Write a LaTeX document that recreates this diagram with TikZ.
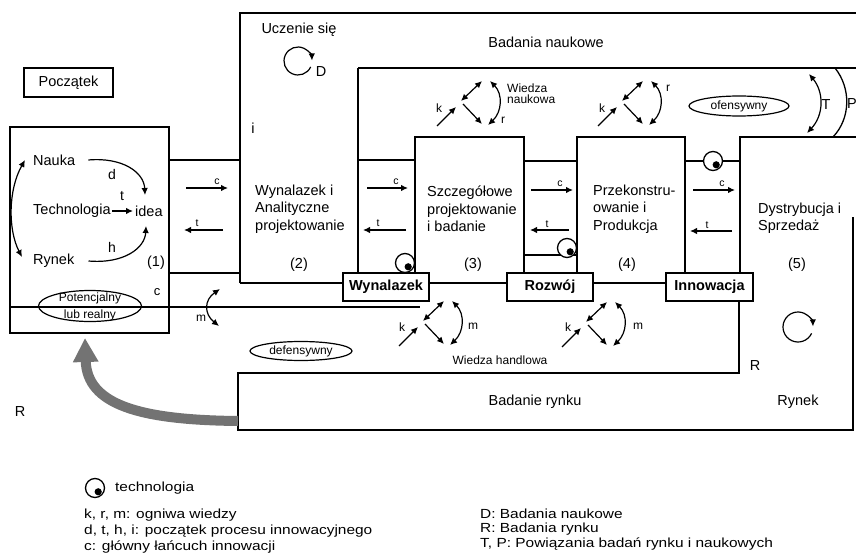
\documentclass[tikz,border=0pt]{standalone}
\usepackage{fontspec}
\setmainfont{Liberation Sans}
\newfontfamily\legfont[FakeStretch=1.17]{Liberation Sans}
\usetikzlibrary{arrows.meta,shapes.geometric}
\newcommand\fmain{\fontsize{14.5}{17.5}\selectfont}
\newcommand\fsmall{\fontsize{12}{13}\selectfont}
\newcommand\ftiny{\fontsize{10.5}{12}\selectfont}
\newcommand\fleg{\legfont\fontsize{13.2}{15}\selectfont}
\newcommand\kcl[2]{%
  \begin{scope}[shift={(#1,#2)}]
    \draw[arr] (-24,24) -- (-5,5);
    \draw[darr] (0,-1) -- (21,-21);
    \draw[arr] (2,2) -- (21,22);
    \draw[darr] (29,-21) .. controls (42,-8) and (41,10) .. (27,23);
  \end{scope}}
\newcommand\techsym[3]{%
  \node[draw,circle,line width=1.3pt,fill=white,minimum size=19pt,inner sep=0pt] (#1) at (#2,#3) {};
  \fill (#2+3.2,#3+3.8) circle (3.6);}
\begin{document}
\begin{tikzpicture}[x=1pt,y=-1pt,
  line/.style={line width=1.3pt},
  arr/.style={line width=1.2pt,-{Latex[length=7pt,width=6.5pt]}},
  darr/.style={line width=1.2pt,{Latex[length=7pt,width=6.5pt]}-{Latex[length=7pt,width=6.5pt]}},
  lbl/.style={inner sep=0pt,font=\fmain},
  sml/.style={inner sep=0pt,font=\fsmall},
  tny/.style={inner sep=0pt,font=\ftiny},
  leg/.style={inner sep=0pt,font=\fleg,anchor=west},
  lbox/.style={draw,line width=1.3pt,fill=white,inner sep=0pt,minimum height=28pt,font=\fmain\bfseries},
  oval/.style={draw,ellipse,line width=1.2pt,inner sep=0pt}
]
\useasboundingbox (0,0) rectangle (856,556);

% ---------- frame lines ----------
\draw[line] (10,127) rectangle (169,333);
\draw[line] (240,283) -- (240,13) -- (856,13);
\draw[line] (358,68) -- (856,68);
\draw[line] (358,68) -- (358,285);
\draw[line] (240,283) -- (343,283);
\draw[line] (415,285) -- (415,137) -- (524,137) -- (524,285);
\draw[line] (577,285) -- (577,137) -- (685,137) -- (685,285);
\draw[line] (740,285) -- (740,137) -- (856,137);
\draw[line] (853,217) -- (853,430) -- (238,430) -- (238,373) -- (739,373) -- (739,290);
% connectors between boxes
\draw[line] (169,160) -- (240,160);
\draw[line] (169,273) -- (240,273);
\draw[line] (358,160) -- (415,160);
\draw[line] (524,161) -- (577,161);
\draw[line] (524,255) -- (577,255);
\draw[line] (685,161) -- (740,161);
\draw[line] (428,283) -- (666,283);
\draw[line] (10,307) -- (420,307);

% ---------- label boxes ----------
\node[lbox,minimum width=86pt] (wyn) at (386,287) {Wynalazek};
\node[lbox,minimum width=86pt] (roz) at (550,287) {Rozwój};
\node[lbox,minimum width=87pt] (inn) at (709.5,287) {Innowacja};
\node[draw,line width=1.2pt,inner sep=0pt,minimum width=89pt,minimum height=29pt,font=\fmain] (pocz) at (68.5,82.5) {Początek};

% ---------- box 1 ----------
\node[lbl,anchor=west] (nauka) at (33,160) {Nauka};
\node[lbl,anchor=west] (techn) at (33,211) {Technologia};
\node[lbl,anchor=west] (idea) at (135,211) {idea};
\node[lbl,anchor=west] (rynek1) at (33,261) {Rynek};
\node[lbl] (n1) at (156,263) {(1)};
\coordinate (ideaT) at (145,195);
\coordinate (ideaB) at (146,226);
\draw[arr] ([xshift=13pt]nauka.east) .. controls (122,157) and (144,172) .. (ideaT);
\draw[arr] ([xshift=14pt]rynek1.east) .. controls (124,264) and (145,248) .. (ideaB);
\draw[arr,shorten <=1pt,shorten >=2pt] (techn.east) -- (idea.west);
\draw[darr] (25,160) .. controls (8,190) and (8,230) .. (22,257);
\node[lbl,font=\fontsize{14}{16}\selectfont] (ld) at (112,174) {d};
\node[lbl,font=\fontsize{14}{16}\selectfont] (lt) at (122,196) {t};
\node[lbl,font=\fontsize{14}{16}\selectfont] (lh) at (112,247) {h};
\node[lbl,font=\fontsize{13}{15}\selectfont] (lc1) at (157,292) {c};
\node[oval,minimum width=103pt,minimum height=31pt] (pot) at (90,306) {};
\node[sml] (pot1) at (90,298) {Potencjalny};
\node[sml] (pot2) at (90,315) {lub realny};

% ---------- box 2 ----------
\node[lbl] (ucz) at (299,30) {Uczenie się};
\draw[arr] (298,61) ++(25:14) arc[start angle=25,end angle=358,radius=14];
\node[lbl] (lD) at (321,72) {D};
\node[lbl] (li) at (253,128) {i};
\node[lbl,anchor=west,align=left] (t2) at (255,209) {Wynalazek i\\Analityczne\\projektowanie};
\node[lbl] (n2) at (299,265) {(2)};

% ---------- boxes 3-5 ----------
\node[lbl,anchor=west,align=left] (t3) at (427,209) {Szczegółowe\\projektowanie\\i badanie};
\node[lbl] (n3) at (473,265) {(3)};
\node[lbl,anchor=west,align=left] (t4) at (593,209) {Przekonstru-\\owanie i\\Produkcja};
\node[lbl] (n4) at (627,265) {(4)};
\node[lbl,anchor=west,align=left] (t5) at (758,218.5) {Dystrybucja i\\Sprzedaż};
\node[lbl] (n5) at (797,265) {(5)};

% ---------- c / t arrows ----------
\draw[arr] (186,188) -- (228,188); \node[tny] at (217,182) {c};
\draw[arr] (223,230) -- (184,230); \node[tny] at (197,223) {t};
\draw[arr] (367,188) -- (408,188); \node[tny] at (396,182) {c};
\draw[arr] (406,230) -- (363,230); \node[tny] at (378,223) {t};
\draw[arr] (531,190) -- (573,190); \node[tny] at (560,184) {c};
\draw[arr] (569,230) -- (530,230); \node[tny] at (547,224) {t};
\draw[arr] (693,190) -- (735,190); \node[tny] at (722,184) {c};
\draw[arr] (732,231) -- (690,231); \node[tny] at (707,225) {t};

% ---------- technology symbols ----------
\techsym{tc1}{405}{263}
\techsym{tc2}{567}{248}
\techsym{tc3}{713}{161}

% ---------- top band ----------
\node[lbl] (bn) at (546,42) {Badania naukowe};
\kcl{461}{102}
\kcl{622}{102}
\node[sml] at (439,108) {k};
\node[sml,anchor=west] (wn1) at (507,88) {Wiedza};
\node[sml,anchor=west] (wn2) at (507,99) {naukowa};
\node[sml] at (503,120) {r};
\node[sml] at (602,108) {k};
\node[sml] at (668,88) {r};
\node[oval,minimum width=100pt,minimum height=20pt,font=\fsmall] (ofe) at (739,106) {ofensywny};
\draw[darr] (809,74) .. controls (824,92) and (824,115) .. (807,133);
\node[lbl] (lT) at (826,105) {T};
\draw[line] (835,68) .. controls (851,88) and (851,118) .. (833,137);
\node[lbl] (lP) at (852,104) {P};

% ---------- bottom band ----------
\draw[darr] (220,289) .. controls (204,300) and (204,314) .. (219,326);
\node[sml] (lm0) at (201,318) {m};
\node[oval,minimum width=102pt,minimum height=19pt,font=\fsmall] (def) at (301,351) {defensywny};
\kcl{423}{322}
\kcl{586}{323}
\node[sml] at (402,327) {k};
\node[sml] at (473,326) {m};
\node[sml] at (568,327) {k};
\node[sml] at (638,326) {m};
\node[sml] (wh) at (500,360) {Wiedza handlowa};
\node[lbl] (lR1) at (755,366) {R};
\draw[arr] (798,327) ++(25:15) arc[start angle=25,end angle=358,radius=15];
\node[lbl] (br) at (535,402) {Badanie rynku};
\node[lbl] (ryn) at (798,402) {Rynek};
\node[lbl] (lR2) at (20,412) {R};
\draw[line width=10pt,draw=black!55,-{Triangle[length=24pt,width=24pt]}] (238,421) .. controls (140,420) and (87,405) .. (85,338);

% ---------- legend ----------
\techsym{tcl}{95}{488}
\node[leg] at (115,488) {technologia};
\node[leg] at (84,515) {k, r, m: ogniwa wiedzy};
\node[leg] at (84,531) {d, t, h, i: początek procesu innowacyjnego};
\node[leg] at (84,547) {c: główny łańcuch innowacji};
\node[leg] at (480,514) {D: Badania naukowe};
\node[leg] at (480,529) {R: Badania rynku};
\node[leg] at (480,544) {T, P: Powiązania badań rynku i naukowych};
\end{tikzpicture}
\end{document}
